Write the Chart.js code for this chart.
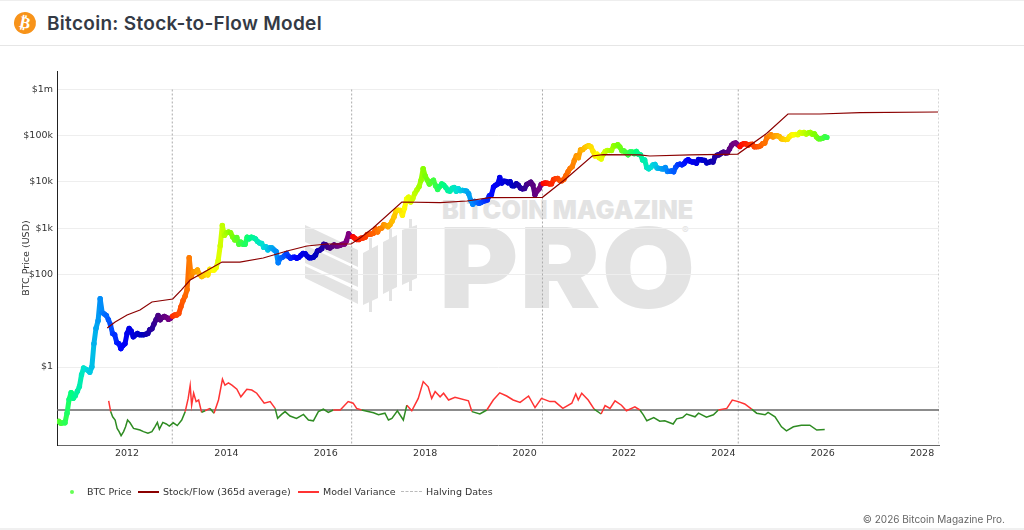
<!DOCTYPE html>
<html>
<head>
<meta charset="utf-8">
<title>Bitcoin: Stock-to-Flow Model</title>
<script src="https://cdn.jsdelivr.net/npm/chart.js@4/dist/chart.umd.min.js"></script>
<style>
html, body { margin: 0; padding: 0; background: #fff; width: 1024px; height: 530px; overflow: hidden; }
#wrap { position: relative; width: 1024px; height: 530px; font-family: "DejaVu Sans", sans-serif; }
#head { position: absolute; left: 0; top: 0; width: 1024px; height: 46px; border-top: 1px solid #eee; border-bottom: 1px solid #e6e6e6; box-sizing: border-box; }
#icon { position: absolute; left: 14px; top: 11px; width: 22px; height: 22px; border-radius: 50%; background: #f7931a; color: #fff; font: bold 16px/22px "DejaVu Sans"; text-align: center; transform: rotate(12deg); }
#title { position: absolute; left: 47px; top: 11px; font: 600 19px/24px Inter, sans-serif; letter-spacing: 0.3px; color: #343a45; white-space: nowrap; }
#foot { position: absolute; right: 19px; top: 512px; font: 10px/14px Inter, sans-serif; color: #666; }
#line { position: absolute; left: 0; top: 528px; width: 1024px; height: 2px; background: #f0f0f0; }
#chart { position: absolute; left: 0; top: 0; }
.mark { position: absolute; color: #e3e3e3; white-space: nowrap; font-family: Inter, sans-serif; font-weight: 900; }
#mark1 { left: 442px; top: 197px; font-size: 25.2px; line-height: 26px; }
#mark2 { left: 439px; top: 207px; font-size: 111px; line-height: 122px; letter-spacing: 1px; transform: scaleX(1.09); transform-origin: 0 0; }
#mark3 { left: 682px; top: 224px; font-size: 10px; line-height: 12px; font-weight: 500; }
#logo { position: absolute; left: 300px; top: 220px; overflow: visible; }
#legend { position: absolute; left: 0; top: 484px; font-size: 9.5px; color: #333; }
#legend span { position: absolute; top: 0; line-height: 16px; white-space: nowrap; }
#legend i { position: absolute; display: block; }
</style>
</head>
<body>
<div id="wrap">
  <div id="head"><div id="icon">₿</div><div id="title">Bitcoin: Stock-to-Flow Model</div></div>

  <svg id="logo" width="120" height="95" fill="#e3e3e3">
    <polygon points="5,5 58,30 58,47 5,22"/>
    <polygon points="5,25 58,50 58,67 5,43"/>
    <polygon points="5,46 58,71 58,84 5,58"/>
    <polygon points="63,33 78,25 78,78 63,85"/>
    <polygon points="83,22 97,15 97,67 83,74"/>
    <polygon points="102,10 117,5 117,58 102,65"/>
    <rect x="69" y="18" width="3" height="74"/>
    <rect x="89" y="8" width="3" height="73"/>
    <rect x="109" y="-1" width="3" height="72"/>
  </svg>
  <div class="mark" id="mark1">BITCOIN MAGAZINE</div>
  <div class="mark" id="mark2">PRO</div>
  <div class="mark" id="mark3">®</div>

  <canvas id="chart" width="1024" height="530"></canvas>

  <div id="legend">
    <i style="left:70px;top:6px;width:4px;height:4px;border-radius:50%;background:#66ff55"></i>
    <span style="left:87px">BTC Price</span>
    <i style="left:138px;top:7px;width:21px;height:1.5px;background:#8b0000"></i>
    <span style="left:163px">Stock/Flow (365d average)</span>
    <i style="left:298px;top:7px;width:21px;height:1.5px;background:#ff3333"></i>
    <span style="left:323px">Model Variance</span>
    <i style="left:401px;top:7px;width:21px;height:0;border-top:1px dashed #bbb"></i>
    <span style="left:426px">Halving Dates</span>
  </div>

  <div id="foot">© 2026 Bitcoin Magazine Pro.</div>
  <div id="line"></div>
</div>

<script>
// axis ticks
const xTickYears = [2012, 2014, 2016, 2018, 2020, 2022, 2024, 2026, 2028];
const yTickValues = [1, 100, 1000, 10000, 100000, 1000000];
const yTickLabels = ['$1', '$100', '$1k', '$10k', '$100k', '$1m'];

const halvingYears = [2012.91, 2016.52, 2020.36, 2024.30, 2028.34];

// BTC price read every half month, first value is mid August 2010
const priceStart = 2010.625;
const btcPrice = [
  0.067, 0.061, 0.062, 0.062, 0.10, 0.20, 0.28, 0.21, 0.24,
  0.30, 0.38, 0.68, 0.95, 0.90, 0.85, 0.77, 1.0, 3.2, 6.9, 10, 30, 15, 14, 13, 10.5, 8.2, 5.3, 5.0, 3.4, 3.2, 2.5, 2.9, 3.2,
  5.3, 6.8, 6.0, 4.5, 4.9, 5.3, 5.0, 5.0, 5.0, 5.1, 5.3, 6.4, 6.7, 8.5, 10.5, 13, 10.5, 11.8, 12.4, 11.8, 10.7, 11.3, 12.5, 13.3,
  13.3, 14.4, 20, 27, 34, 47, 230, 90, 115, 115, 125, 100, 90, 95, 105, 98, 130, 125, 125, 140, 200, 420, 1150, 700,
  800, 830, 800, 650, 560, 630, 450, 500, 450, 450, 640, 590, 640, 620, 590, 520, 480, 470, 385, 400, 340, 380, 375, 340,
  315, 180, 225, 235, 255, 285, 245, 225, 235, 237, 225, 235, 260, 285, 282, 250, 230, 230, 237, 262, 325, 335, 360, 450,
  435, 385, 375, 405, 435, 415, 417, 430, 450, 455, 535, 765, 670, 660, 610, 570, 570, 610, 615, 640, 730, 745, 750, 780,
  970, 830, 980, 1010, 1190, 1150, 1080, 1190, 1420, 1780, 2400, 2450, 2430, 1910, 2720, 4300, 4700, 3700, 4400, 5700, 6750, 7850, 10900, 19300,
  13500, 11000, 9000, 10100, 10900, 8300, 6900, 8000, 9100, 8500, 7500, 6500, 6350, 7300, 7600, 6300, 7200, 6500, 6600, 6500, 6350, 5600, 4000, 3300,
  3800, 3600, 3450, 3600, 3820, 3950, 4100, 5050, 5350, 7800, 8500, 9000, 12500, 9500, 10400, 10300, 9600, 10200, 8300, 8300, 9200, 8500, 7400, 7100,
  7200, 8800, 9350, 9900, 8600, 5300, 6400, 7100, 8800, 9300, 9500, 9400, 9100, 9150, 11300, 11800, 11900, 10800, 10600, 11500, 13800, 16700, 19700, 21300,
  29000, 36800, 33500, 49000, 50000, 55000, 58900, 61000, 57800, 46500, 36700, 40000, 33600, 31500, 39900, 46000, 48000, 47700, 48000, 60800, 60900, 64000, 57000, 47500,
  47000, 43000, 38700, 44500, 44400, 41000, 46000, 40000, 38500, 30000, 30000, 20500, 19300, 20800, 23300, 24000, 20100, 19700, 19400, 19200, 20500, 16900, 17000, 17400,
  16600, 21000, 23700, 24300, 23500, 25000, 28500, 30300, 28000, 27000, 27000, 25500, 30600, 30200, 29700, 29200, 25900, 26600, 27900, 27000, 35400, 37900, 38700, 41900,
  44200, 42500, 43000, 52000, 62400, 68300, 69700, 63500, 58300, 65200, 67700, 66200, 62700, 65000, 65300, 57500, 58000, 58200, 61000, 67600, 69500, 90500, 97000, 105000,
  94400, 100000, 100000, 96000, 86000, 84000, 82500, 84000, 96500, 103700, 105000, 106800, 105500, 118000, 113300, 117500, 109000, 115000, 118500, 108000, 110000, 94000, 86000, 86400,
  88000, 95000, 92000
];

// stock to flow line
const s2fYears = [2011.60, 2011.76, 2012.00, 2012.26, 2012.50, 2012.92, 2013.09, 2013.27, 2013.91, 2014.27, 2014.74, 2015.22, 2015.62, 2016.02, 2016.51, 2016.69, 2016.95, 2017.53, 2018.30, 2018.84, 2019.30, 2020.36, 2020.85, 2021.36, 2021.58, 2022.32, 2022.52, 2023.33, 2024.29, 2024.87, 2025.30, 2025.94, 2026.75, 2028.32];
const s2fValues = [7.0, 9.4, 13.3, 17.1, 25.4, 29.5, 46, 76, 186, 186, 227, 322, 413, 456, 456, 615, 1012, 3695, 3567, 3882, 4575, 4667, 12200, 36500, 38900, 38400, 36500, 38400, 40200, 112000, 295000, 295000, 315000, 326000];

// model variance
const varianceYears = [
  2011.63, 2011.67, 2011.71, 2011.76, 2011.80, 2011.84, 2011.88, 2011.93, 2011.97, 2012.01, 2012.06, 2012.13, 2012.20, 2012.26, 2012.33, 2012.42, 2012.50, 2012.56, 2012.61, 2012.65, 2012.72, 2012.79, 2012.85, 2012.93,
  2013.01, 2013.10, 2013.17, 2013.23, 2013.27, 2013.30, 2013.34, 2013.39, 2013.44, 2013.50, 2013.57, 2013.67, 2013.75, 2013.84, 2013.92, 2013.97,
  2014.04, 2014.11, 2014.21, 2014.29, 2014.41, 2014.51, 2014.61, 2014.76, 2014.88, 2014.98,
  2015.03, 2015.11, 2015.18, 2015.28, 2015.41, 2015.55, 2015.65, 2015.75, 2015.85, 2015.95,
  2016.05, 2016.15, 2016.29, 2016.45, 2016.55, 2016.62, 2016.72, 2016.96,
  2017.06, 2017.19, 2017.26, 2017.33, 2017.44, 2017.56, 2017.63, 2017.73, 2017.86, 2017.96,
  2018.06, 2018.13, 2018.20, 2018.30, 2018.37, 2018.47, 2018.60, 2018.87, 2018.94,
  2019.10, 2019.24, 2019.37, 2019.50, 2019.64, 2019.77, 2019.91,
  2020.08, 2020.21, 2020.34, 2020.51, 2020.61, 2020.77, 2020.95,
  2021.03, 2021.08, 2021.15, 2021.28, 2021.40, 2021.54, 2021.62, 2021.72, 2021.82, 2021.95,
  2022.05, 2022.22, 2022.32, 2022.39, 2022.46, 2022.60, 2022.72, 2022.82, 2022.99,
  2023.06, 2023.18, 2023.26, 2023.43, 2023.50, 2023.66, 2023.80, 2023.90,
  2024.07, 2024.18, 2024.30, 2024.43, 2024.57, 2024.67, 2024.84, 2024.90,
  2025.04, 2025.17, 2025.27, 2025.41, 2025.57, 2025.74, 2025.88, 2026.04
];
const varianceValues = [
  0.23, -0.04, -0.17, -0.25, -0.46, -0.54, -0.64, -0.54, -0.42, -0.25, -0.32, -0.46, -0.48, -0.50, -0.54, -0.58, -0.54, -0.42, -0.31, -0.48, -0.31, -0.35, -0.40, -0.32,
  -0.39, -0.25, -0.04, 0.29, 0.61, 0.12, 0.42, 0.21, 0.25, -0.06, -0.02, 0.04, -0.08, 0.25, 0.77, 0.62,
  0.68, 0.62, 0.52, 0.33, 0.52, 0.50, 0.42, 0.17, 0.21, 0.04,
  -0.21, -0.11, -0.04, -0.15, -0.21, -0.11, -0.25, -0.27, -0.04, 0.02,
  -0.06, 0, 0, 0.21, 0.17, 0.04, 0, -0.07,
  -0.12, -0.08, -0.25, -0.21, -0.02, -0.25, 0.12, -0.02, 0.29, 0.71,
  0.58, 0.29, 0.46, 0.33, 0.42, 0.25, 0.32, 0.23, -0.04,
  -0.10, 0, 0.25, 0.43, 0.35, 0.25, 0.19,
  0.35, 0.06, 0.29, 0.21, 0.21, 0.04, 0.17,
  0.40, 0.25, 0.42, 0.25, 0.02, -0.10, 0.11, 0.04, 0.23, 0.12,
  -0.02, 0.08, 0, -0.12, -0.27, -0.19, -0.28, -0.27, -0.35,
  -0.22, -0.19, -0.10, -0.17, -0.08, -0.18, -0.12, 0,
  0.04, 0.25, 0.21, 0.15, 0.02, -0.08, -0.12, -0.06,
  -0.17, -0.42, -0.52, -0.42, -0.38, -0.38, -0.50, -0.49
];

const xMin = 2010.59, xMax = 2028.34;

// rainbow by position in the halving cycle
const cycleStops = [
  [0, 255, 0, 0], [0.15, 255, 128, 0], [0.28, 255, 255, 0], [0.38, 128, 255, 0], [0.48, 0, 255, 128], [0.56, 0, 220, 220],
  [0.64, 0, 128, 255], [0.74, 0, 0, 255], [0.85, 0, 0, 190], [0.93, 75, 0, 130], [1, 128, 0, 128]
];
const cycleStarts = [2009.0, 2012.91, 2016.52, 2020.36, 2024.30, 2028.34];
// the 2013 cycle runs a bit ahead of the others in the picture
const cycleShift = [0, 0.05, 0, 0, 0];

function cycleColor(year) {
  var i = 0;
  while (i < cycleStarts.length - 2 && year >= cycleStarts[i + 1]) i++;
  var p = (year - cycleStarts[i]) / (cycleStarts[i + 1] - cycleStarts[i]) + cycleShift[i];
  for (var s = 0; s < cycleStops.length - 1; s++) {
    var a = cycleStops[s], b = cycleStops[s + 1];
    if (p <= b[0]) {
      var t = (p - a[0]) / (b[0] - a[0]);
      return 'rgb(' + Math.round(a[1] + (b[1] - a[1]) * t) + ',' + Math.round(a[2] + (b[2] - a[2]) * t) + ',' + Math.round(a[3] + (b[3] - a[3]) * t) + ')';
    }
  }
  return 'rgb(128,0,128)';
}

var pricePoints = btcPrice.map(function (v, i) { return { x: priceStart + i / 24, y: v }; });
var s2fPoints = s2fYears.map(function (x, i) { return { x: x, y: s2fValues[i] }; });
var variancePoints = varianceYears.map(function (x, i) { return { x: x, y: varianceValues[i] }; });

var halvingPoints = [];
halvingYears.forEach(function (x) {
  halvingPoints.push({ x: x, y: 1000000 }, { x: x, y: 0.0206 }, { x: x, y: null });
});

new Chart(document.getElementById('chart').getContext('2d'), {
  type: 'scatter',
  data: {
    datasets: [
      {
        label: 'Halving Dates', data: halvingPoints, showLine: true, spanGaps: false,
        borderColor: '#aaa', borderWidth: 1, borderDash: [2, 2], pointRadius: 0, order: 4
      },
      {
        label: 'Baseline', data: [{ x: xMin, y: 0 }, { x: xMax, y: 0 }], yAxisID: 'yVar', showLine: true,
        borderColor: '#666', borderWidth: 1.3, pointRadius: 0, order: 3
      },
      {
        // the line only closes the gaps between the half month points
        label: 'BTC Price', data: pricePoints, showLine: true, borderWidth: 5, borderCapStyle: 'round', borderJoinStyle: 'round',
        pointRadius: 2.7, pointBorderWidth: 0,
        pointBackgroundColor: pricePoints.map(function (p) { return cycleColor(p.x); }),
        segment: { borderColor: function (ctx) { return cycleColor(ctx.p0.parsed.x); } },
        order: 2
      },
      {
        label: 'Stock/Flow (365d average)', data: s2fPoints, showLine: true,
        borderColor: '#8b0000', borderWidth: 1.2, pointRadius: 0, order: 1
      },
      {
        label: 'Model Variance', data: variancePoints, yAxisID: 'yVar', showLine: true,
        borderColor: '#ff3333', borderWidth: 1.5, pointRadius: 0, order: 1,
        segment: {
          borderColor: function (ctx) {
            return (ctx.p0.parsed.y + ctx.p1.parsed.y) / 2 < 0 ? '#2e8b22' : '#ff3333';
          }
        }
      }
    ]
  },
  options: {
    responsive: false,
    animation: false,
    layout: { padding: { left: 0, top: 71, right: 85, bottom: 55 } },
    plugins: { legend: { display: false }, tooltip: { enabled: false } },
    scales: {
      x: {
        type: 'linear', min: xMin, max: xMax,
        afterBuildTicks: function (scale) { scale.ticks = xTickYears.map(function (v) { return { value: v }; }); },
        afterFit: function (scale) { scale.height = 30; },
        grid: { display: false, drawTicks: false },
        border: { color: '#666', width: 1 },
        ticks: {
          autoSkip: false, maxRotation: 0, padding: 3, color: '#333', font: { family: 'DejaVu Sans', size: 9.5 },
          callback: function (v) { return String(v); }
        }
      },
      y: {
        type: 'logarithmic', min: 0.0206, max: 2510000,
        afterBuildTicks: function (scale) { scale.ticks = yTickValues.map(function (v) { return { value: v }; }); },
        afterFit: function (scale) { scale.width = 57; },
        grid: { color: '#eeeeee', drawTicks: false },
        border: { color: '#222', width: 1 },
        title: { display: true, text: 'BTC Price (USD)', color: '#333', font: { family: 'DejaVu Sans', size: 9.5 }, padding: { top: 21, bottom: 0 } },
        ticks: {
          autoSkip: false, padding: 4, color: '#333', font: { family: 'DejaVu Sans', size: 9.5 },
          callback: function (v) { var i = yTickValues.indexOf(v); return i < 0 ? '' : yTickLabels[i]; }
        }
      },
      yVar: { type: 'linear', display: false, min: -0.875, max: 8.475 }
    }
  }
});
</script>
</body>
</html>
